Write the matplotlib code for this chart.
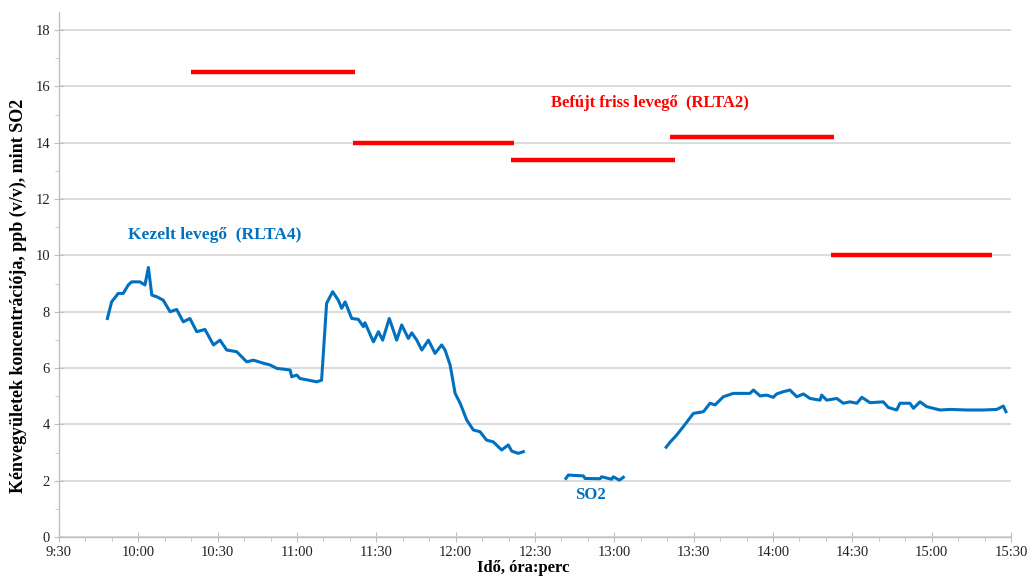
import matplotlib
matplotlib.use("Agg")
import matplotlib.pyplot as plt
from matplotlib.ticker import MultipleLocator, FuncFormatter

plt.rcParams["font.family"] = ["Liberation Serif", "DejaVu Serif"]

# Times are minutes after midnight, concentrations in ppb (v/v) as SO2

# Treated air (RLTA4), first continuous run
t_run1 = [588.3, 589.9, 592.4, 594.3, 596.2, 597.5, 600.6, 602.5, 603.8, 605.1,
          607.0, 609.4, 612.0, 614.5, 617.0, 619.5, 622.1, 625.2, 628.4, 630.9,
          633.4, 637.2, 641.0, 643.5, 647.3, 649.8, 652.3, 657.4, 658.0, 659.9,
          661.1, 667.5, 669.3, 671.2, 673.5, 675.6, 676.9, 678.2, 680.7, 683.2,
          685.1, 685.7, 688.9, 690.8, 692.4, 694.9, 697.7, 699.6, 702.1, 703.4,
          705.3, 707.2, 709.7, 712.2, 714.7, 716.0, 717.9, 719.8, 721.7, 724.2,
          726.7, 729.2, 731.7, 734.2, 737.4, 739.9, 741.2, 743.7, 745.6]
c_run1 = [7.76, 8.35, 8.65, 8.65, 8.95, 9.06, 9.06, 8.95, 9.57, 8.59,
          8.53, 8.41, 8.00, 8.08, 7.64, 7.76, 7.29, 7.37, 6.82, 6.99,
          6.64, 6.58, 6.22, 6.28, 6.17, 6.11, 5.99, 5.93, 5.69, 5.75,
          5.63, 5.51, 5.57, 8.30, 8.71, 8.41, 8.12, 8.35, 7.76, 7.73,
          7.47, 7.61, 6.93, 7.29, 6.99, 7.76, 6.99, 7.53, 7.05, 7.25,
          6.99, 6.64, 6.99, 6.52, 6.82, 6.64, 6.11, 5.10, 4.75, 4.15,
          3.80, 3.74, 3.44, 3.38, 3.09, 3.27, 3.05, 2.97, 3.03]

# SO2 calibration stretch
t_so2 = [761.7, 762.6, 768.3, 768.9, 774.6, 775.2, 779.0, 779.6, 781.9, 782.8, 783.4]
c_so2 = [2.08, 2.20, 2.17, 2.08, 2.07, 2.14, 2.05, 2.14, 2.02, 2.08, 2.12]

# Treated air (RLTA4), second continuous run
t_run2 = [799.6, 801.1, 803.3, 806.1, 809.9, 813.7, 816.2, 818.1, 821.2, 825.0,
          831.3, 832.6, 835.1, 837.6, 840.1, 841.4, 843.9, 846.4, 849.0, 851.5,
          854.0, 857.8, 858.4, 860.3, 864.1, 866.6, 869.1, 871.7, 873.6, 876.7,
          881.7, 883.6, 886.8, 888.0, 891.8, 893.1, 895.6, 898.1, 900.6, 903.2,
          907.0, 913.3, 919.5, 924.6, 927.1, 928.1]
c_run2 = [3.19, 3.37, 3.59, 3.92, 4.39, 4.45, 4.75, 4.69, 4.98, 5.10,
          5.10, 5.22, 5.01, 5.04, 4.96, 5.08, 5.16, 5.22, 4.98, 5.08,
          4.92, 4.86, 5.04, 4.86, 4.92, 4.75, 4.80, 4.75, 4.96, 4.77,
          4.80, 4.60, 4.51, 4.75, 4.75, 4.57, 4.80, 4.63, 4.57, 4.51,
          4.53, 4.51, 4.51, 4.53, 4.65, 4.45]

# Blown-in fresh air (RLTA2), one value per sampling window
fresh_start = [620, 681, 741, 801, 862]
fresh_end = [682, 742, 803, 863, 923]
fresh_value = [16.5, 14.0, 13.4, 14.2, 10.0]

BLUE = "#0070C0"
RED = "#FF0000"
GRID = "#D9D9D9"
SPINE = "#BFBFBF"


def hhmm(x, pos=None):
    x = int(round(x))
    return f"{x // 60}:{x % 60:02d}"


fig = plt.figure(figsize=(10.35, 5.79), dpi=100)
ax = fig.add_axes([0.057, 0.0725, 0.9198, 0.9067])

ax.hlines(fresh_value, fresh_start, fresh_end, colors=RED, linewidth=3.2, zorder=3)
for t, c in ((t_run1, c_run1), (t_so2, c_so2), (t_run2, c_run2)):
    ax.plot(t, c, color=BLUE, linewidth=2.2, solid_joinstyle="round", zorder=4)

ax.text(793.5, 15.4, "Befújt friss levegő  (RLTA2)", color=RED, fontsize=12,
        fontweight="bold", ha="center", va="center")
ax.text(596, 10.72, "Kezelt levegő  (RLTA4)", color=BLUE, fontsize=12.5,
        fontweight="bold", ha="left", va="center")
ax.text(771, 1.49, "SO2", color=BLUE, fontsize=12, fontweight="bold",
        ha="center", va="center")

ax.set_xlim(570, 930)
ax.set_ylim(0, 18.64)
ax.xaxis.set_major_locator(MultipleLocator(30))
ax.xaxis.set_minor_locator(MultipleLocator(10))
ax.xaxis.set_major_formatter(FuncFormatter(hhmm))
ax.yaxis.set_major_locator(MultipleLocator(2))
ax.yaxis.set_minor_locator(MultipleLocator(1))

ax.grid(axis="y", which="major", color=GRID, linewidth=1.3)
ax.set_axisbelow(True)
for side in ("top", "right"):
    ax.spines[side].set_visible(False)
for side in ("left", "bottom"):
    ax.spines[side].set_color(SPINE)
    ax.spines[side].set_linewidth(1.0)

ax.tick_params(which="major", direction="inout", length=7, color=SPINE,
               labelsize=10.5, labelcolor="#222222", pad=3)
ax.tick_params(which="minor", direction="out", length=3, color=SPINE)

ax.set_ylabel("Kénvegyületek koncentrációja, ppb (v/v), mint SO2",
              fontsize=13, fontweight="bold")
ax.yaxis.set_label_coords(-0.034, 0.46)
ax.set_xlabel("Idő, óra:perc", fontsize=12, fontweight="bold")
ax.xaxis.set_label_coords(0.488, -0.044)

fig.savefig("out.png", dpi=100)
